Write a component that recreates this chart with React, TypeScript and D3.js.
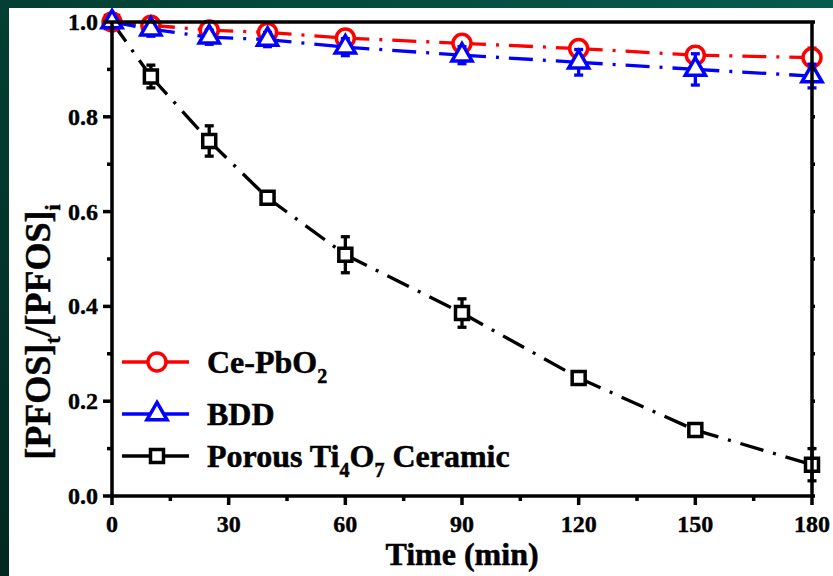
import * as d3 from "d3";

const W = 833;
const H = 576;

const times = [0, 10, 25, 40, 60, 90, 120, 150, 180];
const cePbO2 = [1.0, 0.993, 0.983, 0.978, 0.966, 0.955, 0.944, 0.93, 0.925];
const cePbO2Err = [0.004, 0.006, 0.008, 0.008, 0.008, 0.008, 0.008, 0.018, 0.02];
const bdd = [1.0, 0.985, 0.968, 0.963, 0.947, 0.93, 0.915, 0.9, 0.886];
const bddErr = [0.004, 0.015, 0.015, 0.015, 0.018, 0.018, 0.027, 0.033, 0.025];
const ti4o7 = [1.0, 0.885, 0.749, 0.629, 0.509, 0.386, 0.249, 0.139, 0.066];
const ti4o7Err = [0.004, 0.024, 0.032, 0.01, 0.038, 0.03, 0.01, 0.01, 0.034];

const xTicks = [0, 30, 60, 90, 120, 150, 180];
const xMinor = [15, 45, 75, 105, 135, 165];
const yTicks = [0, 0.2, 0.4, 0.6, 0.8, 1.0];
const yMinor = [0.1, 0.3, 0.5, 0.7, 0.9];

const FONT = "'Liberation Serif', 'Times New Roman', serif";

const x = d3.scaleLinear().domain([0, 180]).range([112, 812]);
const y = d3.scaleLinear().domain([0, 1]).range([496, 22]);

const symCircle = d3.symbol(d3.symbolCircle, Math.PI * 81)();
const symTri = d3.symbol(d3.symbolTriangle, 175)();
const symSquare = d3.symbol(d3.symbolSquare, 169)();

const series = [
  { name: "ti", values: ti4o7, err: ti4o7Err, color: "#000000", shape: symSquare },
  { name: "ce", values: cePbO2, err: cePbO2Err, color: "#ff0000", shape: symCircle },
  { name: "bdd", values: bdd, err: bddErr, color: "#0000ff", shape: symTri },
];

const DASH = "24 10 3 10";

function Series({ s }: { s: any }) {
  const pts = times.map((t, i) => [x(t), y(s.values[i])]);
  return (
    <g>
      {pts.slice(1).map((p, i) => (
        <path
          key={"l" + i}
          d={d3.line()([pts[i] as [number, number], p as [number, number]]) || ""}
          stroke={s.color}
          strokeWidth={3.3}
          strokeDasharray={DASH}
          fill="none"
        />
      ))}
      {times.map((t, i) => {
        const cx = x(t);
        const y0 = y(s.values[i] - s.err[i]);
        const y1 = y(s.values[i] + s.err[i]);
        return (
          <g key={"e" + i} stroke={s.color} strokeWidth={3.3}>
            <line x1={cx} x2={cx} y1={y0} y2={y1} />
            <line x1={cx - 4.5} x2={cx + 4.5} y1={y0} y2={y0} />
            <line x1={cx - 4.5} x2={cx + 4.5} y1={y1} y2={y1} />
          </g>
        );
      })}
      {pts.map((p, i) => (
        <path
          key={"m" + i}
          d={s.shape}
          transform={`translate(${p[0]},${p[1]})`}
          fill="#fff"
          stroke={s.color}
          strokeWidth={3.5}
        />
      ))}
    </g>
  );
}

const legend = [
  { color: "#ff0000", shape: symCircle, y: 362, label: ["Ce-PbO", "2", ""] },
  { color: "#0000ff", shape: symTri, y: 414, label: ["BDD", "", ""] },
  { color: "#000000", shape: symSquare, y: 456, label: ["Porous Ti", "4", "O", "7", " Ceramic"] },
];

export default function App() {
  return (
    <svg
      width={W}
      height={H}
      style={{ position: "absolute", left: 0, top: 0 }}
      fontFamily={FONT}
      fontWeight="bold"
    >
      <defs>
        <linearGradient id="bg" x1="0" y1="1" x2="1" y2="0">
          <stop offset="0" stopColor="#02281f" />
          <stop offset="0.5" stopColor="#033f33" />
          <stop offset="1" stopColor="#065c4c" />
        </linearGradient>
      </defs>
      <rect width={W} height={H} fill="url(#bg)" />
      <rect x={9} y={8} width={W - 9} height={H - 8} fill="#fff" />

      {series.map((s) => (
        <Series key={s.name} s={s} />
      ))}

      {/* legend */}
      {legend.map((l, i) => (
        <g key={i}>
          <line x1={122} x2={189} y1={l.y} y2={l.y} stroke={l.color} strokeWidth={3.3} />
          <path d={l.shape} transform={`translate(157,${l.y})`} fill="#fff" stroke={l.color} strokeWidth={3.5} />
          <text x={207} y={l.y + 11} fontSize={32} stroke="#000" strokeWidth={0.5}>
            {l.label.map((part, j) =>
              j % 2 === 1 ? (
                <tspan key={j} fontSize={20} dy={10}>
                  {part}
                </tspan>
              ) : (
                <tspan key={j} dy={j === 0 ? 0 : -10}>
                  {part}
                </tspan>
              )
            )}
          </text>
        </g>
      ))}

      {/* frame */}
      <g stroke="#000" strokeWidth={3.5} fill="none">
        <line x1={x(0)} x2={x(180)} y1={y(0)} y2={y(0)} />
        <line x1={x(0)} x2={x(180)} y1={y(1)} y2={y(1)} />
        <line x1={x(0)} x2={x(0)} y1={y(0)} y2={y(1)} />
        <line x1={x(180)} x2={x(180)} y1={y(0)} y2={y(1)} />
        {xTicks.map((t) => (
          <line key={"xt" + t} x1={x(t)} x2={x(t)} y1={y(0)} y2={y(0) + 9} />
        ))}
        {xMinor.map((t) => (
          <line key={"xm" + t} x1={x(t)} x2={x(t)} y1={y(0)} y2={y(0) + 5} />
        ))}
        {yTicks.map((t) => (
          <line key={"yt" + t} x1={x(0) - 9} x2={x(0)} y1={y(t)} y2={y(t)} />
        ))}
        {yMinor.map((t) => (
          <line key={"ym" + t} x1={x(0) - 5} x2={x(0)} y1={y(t)} y2={y(t)} />
        ))}
        {yTicks.concat(yMinor).map((t) => (
          <line key={"yr" + t} x1={x(180)} x2={x(180) + 3} y1={y(t)} y2={y(t)} />
        ))}
      </g>

      {/* tick labels */}
      <g stroke="#000" strokeWidth={0.4}>
        {xTicks.map((t) => (
          <text key={"xl" + t} x={x(t)} y={532} fontSize={24} textAnchor="middle">
            {t}
          </text>
        ))}
        {yTicks.map((t) => (
          <text key={"yl" + t} x={98} y={y(t) + 8} fontSize={24} textAnchor="end">
            {d3.format(".1f")(t)}
          </text>
        ))}

        <text x={462} y={565} fontSize={32} textAnchor="middle" strokeWidth={0.5}>
          Time (min)
        </text>

        <text transform="translate(50,332) rotate(-90)" fontSize={36} textAnchor="middle" strokeWidth={0.5}>
          <tspan>[PFOS]</tspan>
          <tspan fontSize={22} dy={10}>t</tspan>
          <tspan dy={-10}>/[PFOS]</tspan>
          <tspan fontSize={22} dy={10}>i</tspan>
        </text>
      </g>
    </svg>
  );
}
